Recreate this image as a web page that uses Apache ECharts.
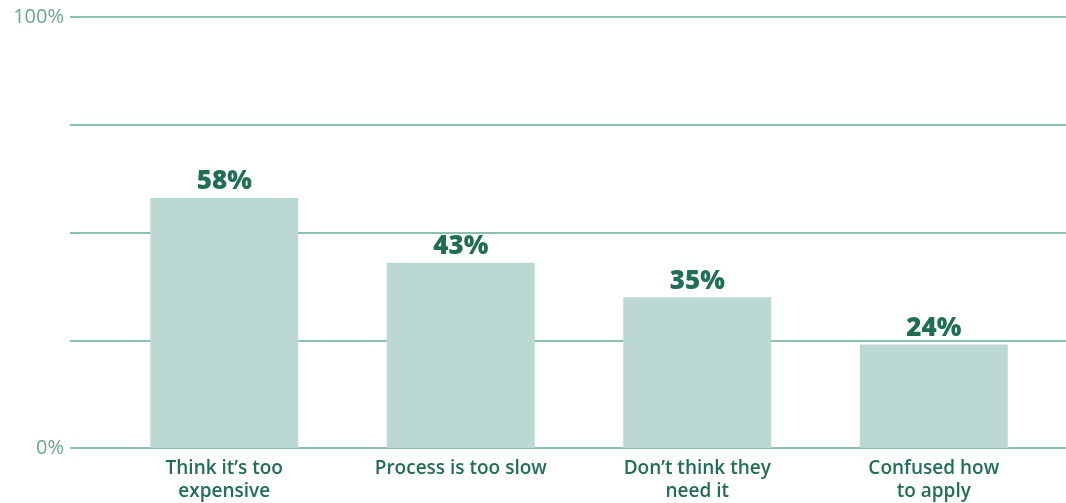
<!DOCTYPE html>
<html>
<head>
<meta charset="utf-8">
<script src="https://cdn.jsdelivr.net/npm/echarts@6/dist/echarts.min.js"></script>
<style>html,body{margin:0;padding:0;background:#fff;}#c{width:1066px;height:503px;}</style>
</head>
<body>
<div id="c"></div>
<script>
const categories = ["Think it\u2019s too\nexpensive", "Process is too slow", "Don\u2019t think they\nneed it", "Confused how\nto apply"];
const values = [58, 43, 35, 24];
const yTicks = {0: "0%", 100: "100%"};

const chart = echarts.init(document.getElementById('c'));
const font = "'Open Sans', 'Noto Sans', sans-serif";
chart.setOption({
  animation: false,
  grid: [
    {left: 70, right: 0, top: 17, bottom: 55},
    {left: 106, right: 14, top: 17, bottom: 55}
  ],
  xAxis: [
    {gridIndex: 0, type: 'category', data: categories, show: false},
    {gridIndex: 1, type: 'category', data: categories,
     axisLine: {show: false}, axisTick: {show: false},
     axisLabel: {color: '#1f6e55', fontFamily: font, fontWeight: 600, fontSize: 19, lineHeight: 23, margin: 9, interval: 0}}
  ],
  yAxis: [
    {gridIndex: 0, type: 'value', min: 0, max: 100, interval: 25,
     axisLine: {show: false}, axisTick: {show: false},
     splitLine: {lineStyle: {color: '#8cc0b0', width: 2}},
     axisLabel: {color: '#6aa594', fontFamily: font, fontSize: 20, margin: 6,
       formatter: v => yTicks[v] !== undefined ? yTicks[v] : ''}},
    {gridIndex: 1, type: 'value', min: 0, max: 100, interval: 25, show: false}
  ],
  series: [{
    type: 'bar', xAxisIndex: 1, yAxisIndex: 1, data: values, barWidth: 148,
    itemStyle: {color: '#bcd8d2'},
    label: {show: true, position: 'top', distance: 3, formatter: '{c}%',
      color: '#1f6e55', fontFamily: font, fontWeight: 800, fontSize: 26}
  }]
});
</script>
</body>
</html>
